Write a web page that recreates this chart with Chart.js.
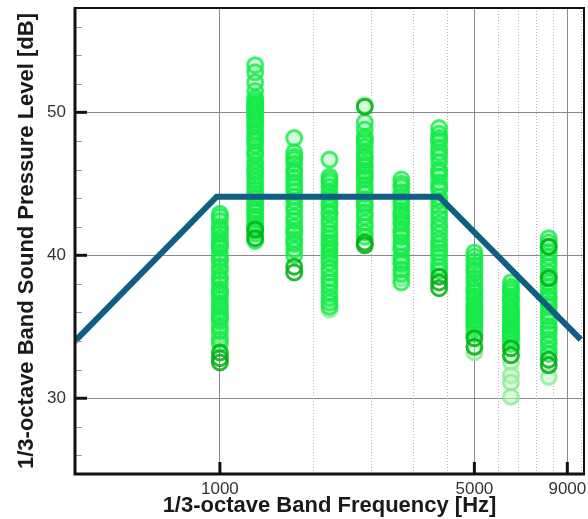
<!DOCTYPE html>
<html>
<head>
<meta charset="utf-8">
<script src="https://cdn.jsdelivr.net/npm/chart.js@4.4.1/dist/chart.umd.min.js"></script>
<style>
  html, body { margin: 0; padding: 0; background: #fff; }
  #wrap { width: 588px; height: 519px; position: relative; }
</style>
</head>
<body>
<div id="wrap"><canvas id="chart"></canvas></div>
<script>
// 1/3-octave band centres (Hz)
const bands = [1000, 1250, 1600, 2000, 2500, 3150, 4000, 5000, 6300, 8000];

// measured levels per band (dB), split by marker shade
const brightLevels = [
  [42.9, 42.7, 42.4, 42.0, 41.8, 41.5, 41.2, 40.9, 40.7, 40.5, 40.1, 39.8, 39.6, 39.2, 38.9, 38.5, 38.3, 38.0, 37.6, 37.4, 37.2, 36.9, 36.6, 36.4, 36.1, 35.8, 35.6, 35.4, 35.0, 34.7, 34.1, 33.8],
  [53.3, 52.8, 52.1, 51.5, 51.0, 50.8, 50.6, 50.5, 50.3, 50.2, 50.0, 49.8, 49.6, 49.4, 49.2, 49.0, 48.7, 48.5, 48.2, 48.0, 47.7, 47.2, 47.0, 46.6, 46.3, 46.0, 45.8, 45.5, 45.2, 44.9, 44.6, 44.3, 44.0, 43.7, 43.5, 43.2, 43.0, 42.7, 42.5, 42.2, 42.0, 41.7, 41.5, 41.0],
  [48.2, 47.2, 46.9, 46.7, 46.4, 46.0, 45.8, 45.4, 45.1, 44.8, 44.5, 44.1, 43.8, 43.4, 43.1, 42.7, 42.4, 42.0, 41.7, 41.5, 41.1, 40.8, 40.4, 40.0],
  [46.7, 45.5, 45.3, 45.1, 44.8, 44.4, 44.1, 43.9, 43.6, 43.4, 43.0, 42.9, 42.5, 42.2, 41.8, 41.5, 41.2, 40.9, 40.7, 40.4, 40.2, 39.8, 39.5, 39.1, 38.8, 38.4, 38.1, 37.8, 37.4, 37.0, 36.7, 36.4],
  [49.3, 48.8, 48.3, 48.1, 47.9, 47.6, 47.2, 46.9, 46.7, 46.4, 46.2, 45.9, 45.7, 45.5, 45.3, 44.9, 44.6, 44.3, 43.9, 43.6, 43.4, 43.0, 42.7, 42.3, 42.0, 41.6, 41.3],
  [45.3, 45.0, 44.8, 44.4, 44.1, 43.8, 43.5, 43.1, 42.9, 42.7, 42.4, 42.2, 41.8, 41.6, 41.3, 40.9, 40.6, 40.4, 39.9, 39.6, 39.4, 39.0, 38.7, 38.1],
  [48.9, 48.5, 48.2, 48.0, 47.5, 47.2, 46.9, 46.5, 46.0, 45.8, 45.5, 45.1, 44.8, 44.6, 44.1, 43.8, 43.4, 43.0, 42.6, 42.2, 41.9, 41.5, 41.1, 40.8, 40.5, 40.2, 39.9, 39.5, 39.2, 38.9],
  [40.2, 39.9, 39.6, 39.3, 39.0, 38.8, 38.4, 38.1, 37.8, 37.6, 37.4, 37.1, 36.9, 36.6, 36.4, 36.2, 36.0, 35.8, 35.6, 35.4, 35.2, 35.0, 34.8, 34.5],
  [38.1, 37.8, 37.6, 37.4, 37.1, 36.9, 36.7, 36.4, 36.2, 36.0, 35.9, 35.7, 35.5, 35.3, 35.1, 34.9, 34.8, 34.6, 34.4, 34.2, 34.1, 33.8],
  [41.2, 40.9, 40.6, 40.2, 39.9, 39.5, 39.2, 38.8, 38.5, 38.1, 37.8, 37.4, 37.1, 36.9, 36.6, 36.4, 36.0, 35.7, 35.4, 35.0, 34.8, 34.5, 34.1, 33.8, 33.4, 33.1]
];
const darkLevels = [
  [33.2, 32.8, 32.5],
  [41.2, 41.8],
  [39.2, 38.8],
  [],
  [50.4, 40.9, 40.7],
  [],
  [38.5, 38.1, 37.7],
  [34.2, 33.6],
  [33.5, 33.0],
  [40.6, 38.4, 32.7, 32.3]
];
const lightLevels = [
  [34.4, 41.8],
  [47.4, 44.1],
  [40.9],
  [40.0, 36.2],
  [50.5],
  [38.4],
  [47.9],
  [33.2],
  [32.5, 31.6, 31.1, 30.1],
  [31.5]
];

// limit curve
const limitFreqs = [400, 980, 4000, 9800];
const limitLevels = [34.0, 44.1, 44.1, 34.1];

// axis ticks
const xMajor = [1000, 5000, 9000];
const xMinor = [1800, 2600, 3400, 4200, 5800, 6600, 7400, 8200, 9800];
const yMajor = [30, 40, 50];
const yMinor = [26, 28, 32, 34, 36, 38, 42, 44, 46, 48, 52, 54, 56];

const toPoints = levels => bands.flatMap((f, i) => levels[i].map(v => ({ x: f, y: v })));

const FONT = '"Liberation Sans", Arial, sans-serif';
Chart.defaults.font.family = FONT;

const decor = {
  id: 'decor',
  beforeDatasetsDraw(chart) {
    const { ctx, chartArea: a, scales: { x } } = chart;
    ctx.save();
    ctx.strokeStyle = '#b5b5b5';
    ctx.lineWidth = 1;
    ctx.setLineDash([1, 2]);
    xMinor.forEach(v => {
      const px = Math.round(x.getPixelForValue(v)) + 0.5;
      ctx.beginPath(); ctx.moveTo(px, a.top); ctx.lineTo(px, a.bottom); ctx.stroke();
    });
    ctx.restore();
  },
  afterDraw(chart) {
    const { ctx, chartArea: a, scales: { x, y } } = chart;
    ctx.save();
    // minor y ticks
    ctx.strokeStyle = '#999';
    ctx.lineWidth = 1;
    yMinor.forEach(v => {
      const py = Math.round(y.getPixelForValue(v)) + 0.5;
      ctx.beginPath(); ctx.moveTo(a.left, py); ctx.lineTo(a.left + 7, py); ctx.stroke();
    });
    // major ticks
    ctx.strokeStyle = '#111';
    ctx.lineWidth = 3;
    yMajor.forEach(v => {
      const py = y.getPixelForValue(v);
      ctx.beginPath(); ctx.moveTo(a.left, py); ctx.lineTo(a.left + 12, py); ctx.stroke();
    });
    xMajor.forEach(v => {
      const px = x.getPixelForValue(v);
      ctx.beginPath(); ctx.moveTo(px, a.bottom); ctx.lineTo(px, a.bottom - 12); ctx.stroke();
    });
    // frame
    ctx.lineWidth = 2;
    ctx.strokeStyle = '#111';
    ctx.beginPath();
    ctx.moveTo(a.left, a.top); ctx.lineTo(a.right, a.top); ctx.lineTo(a.right, a.bottom);
    ctx.stroke();
    ctx.lineWidth = 3;
    ctx.beginPath();
    ctx.moveTo(a.left, a.top - 1); ctx.lineTo(a.left, a.bottom); ctx.lineTo(a.right + 1, a.bottom);
    ctx.stroke();
    ctx.restore();
  }
};

const pointStyle = (border, fill) => ({
  type: 'scatter',
  borderColor: border,
  backgroundColor: fill,
  pointRadius: 7.5,
  pointHoverRadius: 7.5,
  borderWidth: 3
});

const noPad = s => { s.paddingLeft = 0; s.paddingRight = 0; s.paddingTop = 0; s.paddingBottom = 0; };

new Chart(document.getElementById('chart'), {
  type: 'scatter',
  data: {
    datasets: [
      {
        label: 'limit',
        type: 'line',
        data: limitFreqs.map((f, i) => ({ x: f, y: limitLevels[i] })),
        borderColor: '#0f5f82',
        borderWidth: 6,
        pointRadius: 0,
        fill: false,
        tension: 0
      },
      { label: 'dark', data: toPoints(darkLevels), ...pointStyle('rgba(0,175,20,0.85)', 'rgba(0,0,0,0)') },
      { label: 'bright', data: toPoints(brightLevels), ...pointStyle('rgba(20,235,70,0.8)', 'rgba(40,235,90,0.2)') },
      { label: 'light', data: toPoints(lightLevels), ...pointStyle('rgba(140,236,150,0.8)', 'rgba(190,245,190,0.55)') }
    ]
  },
  options: {
    responsive: true,
    maintainAspectRatio: false,
    animation: false,
    layout: { autoPadding: false, padding: { top: 8, right: 4, left: 0, bottom: 0 } },
    plugins: { legend: { display: false }, tooltip: { enabled: false } },
    scales: {
      x: {
        type: 'logarithmic',
        min: 400,
        max: 10000,
        afterBuildTicks: s => { s.ticks = xMajor.map(v => ({ value: v })); },
        afterFit: s => { s.height = 45; noPad(s); },
        grid: { color: '#8a8a8a', lineWidth: 1, drawTicks: false },
        border: { display: false },
        ticks: {
          autoSkip: false, maxRotation: 0, padding: 5, color: '#333',
          font: { size: 17 },
          callback: v => String(v)
        },
        title: {
          display: true, text: '1/3-octave Band Frequency [Hz]', color: '#1a1a1a',
          font: { size: 22, weight: 'bold' }, padding: { top: 0, bottom: 0 }
        }
      },
      y: {
        min: 24.7,
        max: 57.3,
        afterBuildTicks: s => { s.ticks = yMajor.map(v => ({ value: v })); },
        afterFit: s => { s.width = 75; noPad(s); },
        grid: { color: '#8a8a8a', lineWidth: 1, drawTicks: false },
        border: { display: false },
        ticks: { padding: 9, color: '#333', font: { size: 17 } },
        title: {
          display: true, text: '1/3-octave Band Sound Pressure Level [dB]', color: '#1a1a1a',
          font: { size: 22, weight: 'bold' }, padding: { top: 14, bottom: 0 }
        }
      }
    }
  },
  plugins: [decor]
});
</script>
</body>
</html>
